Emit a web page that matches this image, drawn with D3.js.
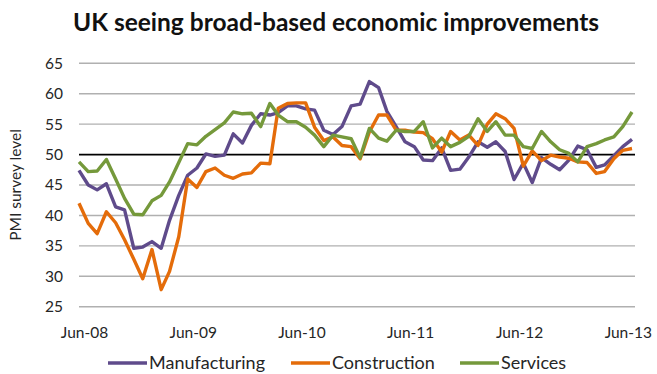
<!DOCTYPE html>
<html>
<head>
<meta charset="utf-8">
<script src="https://cdn.jsdelivr.net/npm/d3@7"></script>
<style>
  body { margin: 0; background: #fff; }
  svg { display: block; }
  text { font-family: Lato, "Noto Sans", sans-serif; }
</style>
</head>
<body>
<svg id="chart" width="657" height="374"></svg>
<script>
// Chart text
const chartTitle = "UK seeing broad-based economic improvements";
const yAxisTitle = "PMI survey level";

// Monthly survey readings, May-08 to Jun-13
const months = d3.timeMonth.range(new Date(2008, 4, 1), new Date(2013, 6, 1));

const manufacturing = [47.4, 45.0, 44.2, 45.2, 41.4, 40.9, 34.6, 34.8, 35.7, 34.6, 39.2, 43.3,
  46.6, 47.8, 50.1, 49.7, 49.9, 53.4, 51.9, 54.8, 56.7, 56.5, 56.9, 58.0,
  58.0, 57.5, 57.3, 54.0, 53.3, 54.6, 58.0, 58.3, 62.0, 61.0, 57.1, 54.6,
  52.1, 51.3, 49.1, 49.0, 51.1, 47.4, 47.6, 49.6, 52.1, 51.2, 52.1, 50.5,
  45.9, 48.6, 45.4, 49.5, 48.4, 47.5, 49.1, 51.4, 50.8, 47.9, 48.3, 49.8,
  51.3, 52.5];

const construction = [42.0, 38.7, 37.0, 40.6, 38.8, 36.0, 32.8, 29.6, 34.4, 27.8, 30.8, 36.5,
  46.0, 44.6, 47.2, 47.8, 46.6, 46.1, 46.8, 47.0, 48.6, 48.5, 57.6, 58.4,
  58.5, 58.5, 54.5, 52.3, 52.9, 51.5, 51.3, 49.3, 53.7, 56.5, 56.5, 54.0,
  54.0, 53.7, 53.6, 52.6, 50.4, 53.8, 52.4, 53.2, 51.5, 55.0, 56.7, 55.9,
  54.3, 48.1, 50.6, 49.0, 49.9, 49.6, 49.4, 48.8, 48.7, 46.9, 47.2, 49.3,
  50.7, 51.0];

const services = [48.8, 47.2, 47.3, 49.2, 46.0, 42.8, 40.2, 40.1, 42.4, 43.3, 45.5, 48.7,
  51.8, 51.6, 53.0, 54.1, 55.2, 57.0, 56.7, 56.8, 54.6, 58.4, 56.5, 55.4,
  55.4, 54.5, 53.2, 51.3, 53.2, 52.9, 52.6, 49.5, 54.3, 52.7, 52.2, 54.0,
  53.8, 53.8, 55.4, 51.1, 52.7, 51.3, 52.0, 53.0, 55.9, 53.8, 55.4, 53.2,
  53.2, 51.3, 51.0, 53.8, 52.1, 50.8, 50.2, 48.8, 51.3, 51.8, 52.4, 52.9,
  54.6, 57.0];

const seriesNames = ["Manufacturing", "Construction", "Services"];
const seriesColors = ["#5f4b8b", "#e46c0a", "#75993b"];
const seriesValues = [manufacturing, construction, services];

const yTicks = [25, 30, 35, 40, 45, 50, 55, 60, 65];
const xTickDates = [2008, 2009, 2010, 2011, 2012, 2013].map(y => new Date(y, 5, 1));
const baseline = 50;

// Layout
const svg = d3.select("#chart");
const plot = { left: 79, right: 635, top: 63.3, bottom: 306.7 };

// Points sit mid-month; year labels fall at the start of June
const midMonth = d => d3.timeDay.offset(d, 14);
const x = d3.scaleTime()
  .domain([midMonth(months[0]), midMonth(months[months.length - 1])])
  .range([plot.left, 632]);
const y = d3.scaleLinear().domain([25, 65]).range([plot.bottom, plot.top]);

// Title
svg.append("text")
  .attr("x", 336).attr("y", 31)
  .attr("text-anchor", "middle")
  .attr("font-size", 24.5).attr("font-weight", 700)
  .attr("fill", "#111")
  .text(chartTitle);

// Horizontal gridlines
svg.append("g").selectAll("line")
  .data(yTicks.filter(v => v !== baseline))
  .join("line")
  .attr("x1", plot.left).attr("x2", plot.right)
  .attr("y1", d => y(d)).attr("y2", d => y(d))
  .attr("stroke", "#b0b0b0").attr("stroke-width", 1.4);

// Y axis labels (no axis line)
const yAxis = d3.axisLeft(y).tickValues(yTicks).tickSize(0).tickPadding(0).tickFormat(d3.format("d"));
const yg = svg.append("g").attr("transform", `translate(63,0)`).call(yAxis);
yg.select(".domain").remove();
yg.selectAll("text").attr("font-size", 15.5).attr("fill", "#262626")
  .attr("font-family", "Lato, 'Noto Sans', sans-serif");

// Y axis title
svg.append("text")
  .attr("transform", `translate(21,${(plot.top + plot.bottom) / 2}) rotate(-90)`)
  .attr("text-anchor", "middle")
  .attr("font-size", 15.5).attr("fill", "#262626")
  .text(yAxisTitle);

// Reference line at 50
svg.append("line")
  .attr("x1", plot.left).attr("x2", plot.right)
  .attr("y1", y(baseline)).attr("y2", y(baseline))
  .attr("stroke", "#000").attr("stroke-width", 1.6);

// X axis labels
const xAxis = d3.axisBottom(x).tickValues(xTickDates).tickSize(0).tickPadding(0)
  .tickFormat(d3.timeFormat("%b-%y"));
const xg = svg.append("g").attr("transform", `translate(0,${plot.bottom + 20})`).call(xAxis);
xg.select(".domain").remove();
xg.selectAll("text").attr("font-size", 15.5).attr("fill", "#262626")
  .attr("font-family", "Lato, 'Noto Sans', sans-serif");

// Series lines
const line = d3.line()
  .x((d, i) => x(midMonth(months[i])))
  .y(d => y(d));

svg.append("g").selectAll("path")
  .data(seriesValues)
  .join("path")
  .attr("d", d => line(d))
  .attr("fill", "none")
  .attr("stroke", (d, i) => seriesColors[i])
  .attr("stroke-width", 3.4)
  .attr("stroke-linejoin", "round");

// Legend
const legendY = 363;
const legendX = [108, 291, 460];
const legend = svg.append("g").selectAll("g")
  .data(seriesNames)
  .join("g")
  .attr("transform", (d, i) => `translate(${legendX[i]},${legendY})`);
legend.append("line")
  .attr("x1", 0).attr("x2", 39)
  .attr("stroke", (d, i) => seriesColors[i]).attr("stroke-width", 3.4);
legend.append("text")
  .attr("x", 41).attr("dy", "0.35em")
  .attr("font-size", 18).attr("fill", "#262626")
  .text(d => d);
</script>
</body>
</html>
